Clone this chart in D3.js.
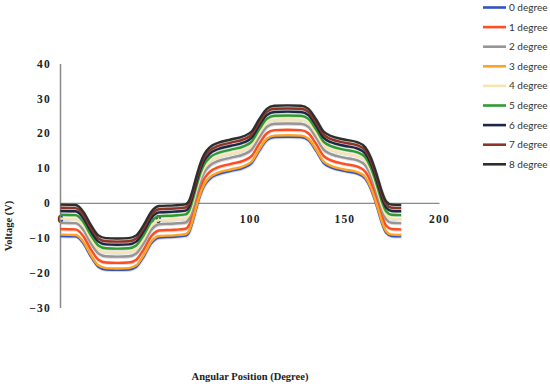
<!doctype html>
<html>

<head>
    <meta charset="UTF-8">
    <title>Voltage vs Angular Position</title>
    <style type="text/css">
        body {
            margin: 0;
            background: #fff;
        }

        .tick text {
            font-family: "Liberation Serif", serif;
            font-weight: bold;
            font-size: 11.5px;
            letter-spacing: 1.2px;
            fill: #222;
        }

        .axis-title {
            font-family: "Liberation Serif", serif;
            font-weight: bold;
            font-size: 10.5px;
            fill: #222;
        }

        .legend text {
            font-family: Lato, sans-serif;
            font-size: 10px;
            fill: #333;
        }

        .series {
            fill: none;
            stroke-width: 2.4;
            stroke-linejoin: round;
        }
    </style>
</head>

<body>

    <svg id="chart" width="550" height="388"></svg>

    <script src="https://cdn.jsdelivr.net/npm/d3@7"></script>
    <script type="text/javascript">
        // angular position (degree) of each sample
        var angles = [0, 8, 12, 16, 20, 24, 30, 36, 40, 44, 48, 52, 60, 66, 68, 70, 72, 74, 76, 79, 83, 90, 97, 101, 105, 109, 113, 120, 127, 131, 135, 139, 143, 150, 157, 161, 164, 166, 168, 170, 172, 175, 180];

        // voltage (V) for each angle, one list per degree
        var deg0 = [-9.5, -9.6, -11.5, -15.3, -18.3, -19.1, -19.2, -19.1, -18.3, -15.3, -11.5, -9.9, -9.7, -9.4, -8.3, -5.0, -1.0, 2.5, 5.0, 7.0, 8.2, 9.2, 10.2, 11.5, 15.0, 18.0, 18.9, 19.0, 18.9, 18.0, 15.0, 11.5, 10.2, 9.2, 8.4, 7.0, 4.0, 1.0, -2.5, -6.0, -8.5, -9.5, -9.6];
        var deg1 = [-7.5, -7.6, -9.5, -13.3, -16.3, -17.1, -17.2, -17.1, -16.3, -13.3, -9.5, -7.9, -7.7, -7.4, -6.3, -3.0, 1.0, 4.5, 7.0, 9.0, 10.2, 11.2, 12.2, 13.5, 17.0, 20.0, 20.9, 21.0, 20.9, 20.0, 17.0, 13.5, 12.2, 11.2, 10.4, 9.0, 6.0, 3.0, -0.5, -4.0, -6.5, -7.5, -7.6];
        var deg2 = [-5.7, -5.8, -7.7, -11.5, -14.5, -15.3, -15.4, -15.3, -14.5, -11.5, -7.7, -6.1, -5.9, -5.6, -4.5, -1.2, 2.8, 6.3, 8.8, 10.8, 12.0, 13.0, 14.0, 15.3, 18.8, 21.8, 22.7, 22.8, 22.7, 21.8, 18.8, 15.3, 14.0, 13.0, 12.2, 10.8, 7.8, 4.8, 1.3, -2.2, -4.7, -5.7, -5.8];
        var deg3 = [-9.1, -9.2, -11.1, -14.9, -17.9, -18.7, -18.8, -18.7, -17.9, -14.9, -11.1, -9.5, -9.3, -9.0, -7.9, -4.6, -0.6, 2.9, 5.4, 7.4, 8.6, 9.6, 10.6, 11.9, 15.4, 18.4, 19.3, 19.4, 19.3, 18.4, 15.4, 11.9, 10.6, 9.6, 8.8, 7.4, 4.4, 1.4, -2.1, -5.6, -8.1, -9.1, -9.2];
        var deg4 = [-4.5, -4.6, -6.5, -10.3, -13.3, -14.1, -14.2, -14.1, -13.3, -10.3, -6.5, -4.9, -4.7, -4.4, -3.3, 0.0, 4.0, 7.5, 10.0, 12.0, 13.2, 14.2, 15.2, 16.5, 20.0, 23.0, 23.9, 24.0, 23.9, 23.0, 20.0, 16.5, 15.2, 14.2, 13.4, 12.0, 9.0, 6.0, 2.5, -1.0, -3.5, -4.5, -4.6];
        var deg5 = [-3.4, -3.5, -5.4, -9.2, -12.2, -13.0, -13.1, -13.0, -12.2, -9.2, -5.4, -3.8, -3.6, -3.3, -2.2, 1.1, 5.1, 8.6, 11.1, 13.1, 14.3, 15.3, 16.3, 17.6, 21.1, 24.1, 25.0, 25.1, 25.0, 24.1, 21.1, 17.6, 16.3, 15.3, 14.5, 13.1, 10.1, 7.1, 3.6, 0.1, -2.4, -3.4, -3.5];
        var deg6 = [-2.3, -2.4, -4.3, -8.1, -11.1, -11.9, -12.0, -11.9, -11.1, -8.1, -4.3, -2.7, -2.5, -2.2, -1.1, 2.2, 6.2, 9.7, 12.2, 14.2, 15.4, 16.4, 17.4, 18.7, 22.2, 25.2, 26.1, 26.2, 26.1, 25.2, 22.2, 18.7, 17.4, 16.4, 15.6, 14.2, 11.2, 8.2, 4.7, 1.2, -1.3, -2.3, -2.4];
        var deg7 = [-1.4, -1.5, -3.4, -7.2, -10.2, -11.0, -11.1, -11.0, -10.2, -7.2, -3.4, -1.8, -1.6, -1.3, -0.2, 3.1, 7.1, 10.6, 13.1, 15.1, 16.3, 17.3, 18.3, 19.6, 23.1, 26.1, 27.0, 27.1, 27.0, 26.1, 23.1, 19.6, 18.3, 17.3, 16.5, 15.1, 12.1, 9.1, 5.6, 2.1, -0.4, -1.4, -1.5];
        var deg8 = [-0.5, -0.6, -2.5, -6.3, -9.3, -10.1, -10.2, -10.1, -9.3, -6.3, -2.5, -0.9, -0.7, -0.4, 0.7, 4.0, 8.0, 11.5, 14.0, 16.0, 17.2, 18.2, 19.2, 20.5, 24.0, 27.0, 27.9, 28.0, 27.9, 27.0, 24.0, 20.5, 19.2, 18.2, 17.4, 16.0, 13.0, 10.0, 6.5, 3.0, 0.5, -0.5, -0.6];

        var seriesNames = ["0 degree", "1 degree", "2 degree", "3 degree", "4 degree", "5 degree", "6 degree", "7 degree", "8 degree"];
        var seriesValues = [deg0, deg1, deg2, deg3, deg4, deg5, deg6, deg7, deg8];

        var xTicks = [0, 50, 100, 150, 200];
        var yTicks = [-30, -20, -10, 0, 10, 20, 30, 40];

        var colors = ["#3352c4", "#ff4d24", "#969696", "#ffa41f", "#f6e5b0", "#2f9b30", "#1f2544", "#8c3428", "#2e2e2e"];

        var svg = d3.select("#chart");

        var x = d3.scaleLinear().domain([0, 200]).range([60.5, 439]);
        var y = d3.scaleLinear().domain([-30, 40]).range([307.5, 63.5]);

        // soft shadow like the spreadsheet lines
        var defs = svg.append("defs");
        defs.append("filter")
            .attr("id", "shade")
            .attr("x", "-5%").attr("y", "-5%")
            .attr("width", "110%").attr("height", "110%")
            .append("feDropShadow")
            .attr("dx", 0.4)
            .attr("dy", 0.6)
            .attr("stdDeviation", 0.6)
            .attr("flood-color", "#000")
            .attr("flood-opacity", 0.25);

        //座標軸 (labels under the curves)
        var xAxis = svg.append("g")
            .attr("class", "x axis")
            .attr("transform", "translate(0," + y(0) + ")")
            .call(d3.axisBottom(x).tickValues(xTicks).tickSize(0).tickPadding(12));
        xAxis.select(".domain").attr("stroke", "#8a8a8a").attr("stroke-width", 1.3);

        var yAxis = svg.append("g")
            .attr("class", "y axis")
            .attr("transform", "translate(60,0)")
            .call(d3.axisLeft(y).tickValues(yTicks).tickSize(0).tickPadding(9));
        yAxis.select(".domain").attr("stroke", "#8a8a8a").attr("stroke-width", 1.5);

        var line = d3.line()
            .x(function(d, i) {
                return x(angles[i]);
            })
            .y(function(d) {
                return y(d);
            })
            .curve(d3.curveMonotoneX);

        svg.append("g")
            .attr("filter", "url(#shade)")
            .selectAll(".series")
            .data(seriesValues)
            .enter()
            .append("path")
            .attr("class", "series")
            .attr("stroke", function(d, i) {
                return colors[i];
            })
            .attr("d", line);

        //圖例
        var legend = svg.append("g")
            .attr("class", "legend")
            .selectAll("g")
            .data(seriesNames)
            .enter()
            .append("g")
            .attr("transform", function(d, i) {
                return "translate(483," + (7.5 + i * 19.6) + ")";
            });

        legend.append("line")
            .attr("x1", 0)
            .attr("x2", 23)
            .attr("stroke", function(d, i) {
                return colors[i];
            })
            .attr("stroke-width", 2.6);

        legend.append("text")
            .attr("x", 26)
            .attr("dy", "0.35em")
            .text(function(d) {
                return d;
            });

        svg.append("text")
            .attr("class", "axis-title")
            .attr("transform", "translate(12,226) rotate(-90)")
            .attr("text-anchor", "middle")
            .text("Voltage (V)");

        svg.append("text")
            .attr("class", "axis-title")
            .attr("x", 250)
            .attr("y", 376)
            .attr("dy", "0.35em")
            .attr("text-anchor", "middle")
            .text("Angular Position (Degree)");
    </script>

</body>

</html>
